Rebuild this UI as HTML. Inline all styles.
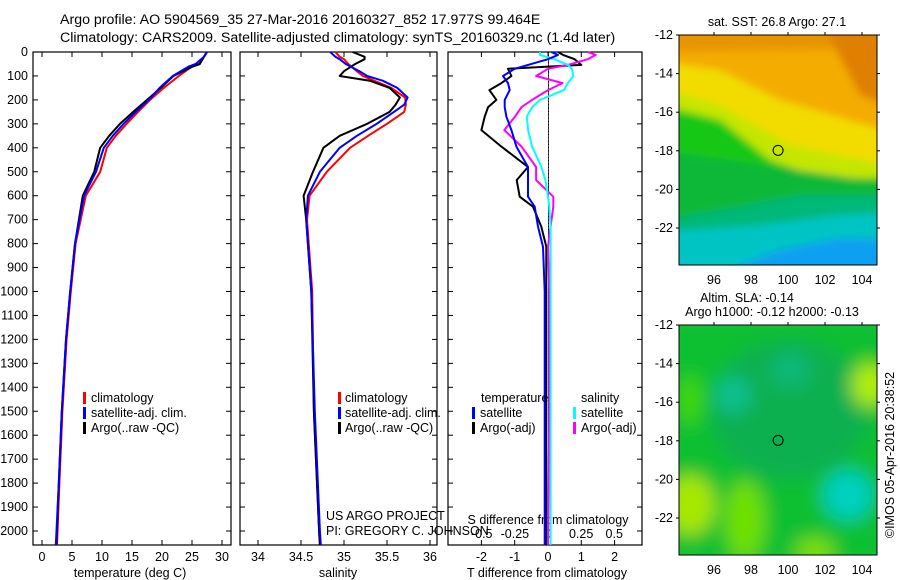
<!DOCTYPE html>
<html><head><meta charset="utf-8"><style>
html,body{margin:0;padding:0;background:#fff;}
svg{display:block;font-family:"Liberation Sans",sans-serif;}
</style></head><body>
<svg id="fig" width="900" height="580" viewBox="0 0 900 580">
<defs>
<filter id="blur" x="-10%" y="-10%" width="120%" height="120%"><feGaussianBlur stdDeviation="4"/></filter>
<filter id="blurS" x="-10%" y="-10%" width="120%" height="120%"><feGaussianBlur stdDeviation="9"/></filter>
<clipPath id="clip1"><rect x="679" y="35" width="198" height="230"/></clipPath>
<clipPath id="clip2"><rect x="679" y="325" width="198" height="230"/></clipPath>
</defs>
<g id="texts" font-size="14.2" fill="#000">
<text x="60" y="24">Argo profile: AO 5904569_35 27-Mar-2016 20160327_852 17.977S 99.464E</text>
<text x="60" y="42">Climatology: CARS2009. Satellite-adjusted climatology: synTS_20160329.nc (1.4d later)</text>
</g>
</svg>
<script>
// ---- data ----
const depthT = [0,20,50,60,100,150,200,250,300,350,400,500,600,800,1000,1200,1500,1800,2058];
const tempClim = [27.4,27.0,26.2,25.0,22.8,20.3,18.0,16.0,14.1,12.3,10.8,9.7,7.3,5.6,4.8,4.1,3.4,2.9,2.5];
const tempSat = [27.5,27.0,25.6,24.5,21.8,19.6,17.8,15.6,13.6,11.8,10.3,9.0,7.0,5.5,4.7,4.0,3.3,2.8,2.3];
const tempArgo = [27.5,27.0,26.3,25.2,21.9,19.8,17.5,15.2,13.0,11.2,9.7,8.7,6.8,5.5,4.7,4.0,3.3,2.8,2.4];
const depthS = [0,20,30,50,80,100,120,150,190,220,250,300,350,400,500,600,700,1000,1500,2000,2058];
const salClim = [34.9,34.95,35.0,35.05,35.15,35.22,35.35,35.55,35.71,35.72,35.7,35.5,35.28,35.07,34.8,34.6,34.57,34.63,34.65,34.71,34.72];
const salSat = [34.84,34.9,34.95,35.02,35.18,35.27,35.45,35.62,35.74,35.7,35.58,35.38,35.15,34.95,34.72,34.58,34.56,34.62,34.66,34.72,34.73];
const salArgo = [35.1,35.24,35.24,35.13,35.0,34.95,35.3,35.53,35.65,35.6,35.53,35.27,34.95,34.76,34.64,34.53,34.56,34.62,34.65,34.71,34.72];
const depthD = [0,12,30,54,70,100,130,159,200,230,270,326,395,480,535,604,646,729,813,1000,1500,2058];
const dTsat = [0.1,0.3,0.0,-0.6,-1.0,-1.35,-1.2,-1.15,-1.3,-1.3,-1.25,-1.1,-0.95,-0.6,-0.6,-0.6,-0.4,-0.3,-0.15,-0.1,-0.1,-0.1];
const dTargo = [0.3,0.45,0.8,1.0,-1.2,-1.1,-1.4,-1.76,-1.55,-1.8,-1.9,-2.0,-1.4,-0.6,-0.94,-0.85,-0.45,-0.2,-0.05,-0.05,-0.05,-0.05];
const dSsat = [-0.06,-0.06,0.05,0.15,0.18,0.19,0.15,0.12,-0.06,-0.12,-0.16,-0.15,-0.12,-0.05,-0.02,0.0,0.01,0.02,0.02,0.02,0.02,0.02];
const dSargo = [0.3,0.36,0.3,0.15,0.0,-0.09,0.11,0.0,-0.12,-0.2,-0.25,-0.33,-0.2,-0.09,-0.09,0.04,0.04,0.02,0.0,0.01,0.01,0.0];
const depthTicks = [0,100,200,300,400,500,600,700,800,900,1000,1100,1200,1300,1400,1500,1600,1700,1800,1900,2000];
const tempTicks = [0,5,10,15,20,25,30];
const salTicks = [34,34.5,35,35.5,36];
const salTickLabels = ["34","34.5","35","35.5","36"];
const dTTicks = [-2,-1,0,1,2];
const dSTicks = [-0.5,-0.25,0,0.25,0.5];
const dSTickLabels = ["-0.5","-0.25","0","0.25","0.5"];
const lonTicks = [96,98,100,102,104];
const latTicks = [-12,-14,-16,-18,-20,-22];
const argoLon = 99.464, argoLat = -17.977;

// ---- helpers ----
const NS = "http://www.w3.org/2000/svg";
const svg = document.getElementById('fig');
function mk(tag, attrs, parent){const e=document.createElementNS(NS,tag);for(const k in attrs)e.setAttribute(k,attrs[k]);(parent||svg).appendChild(e);return e;}
function txt(x,y,s,anchor,size,parent){const t=mk('text',{x:x,y:y,'font-size':size||12.5,'text-anchor':anchor||'start'},parent);t.textContent=s;return t;}
const yD = d => 52 + d*0.2395;
const PB = 545;
const xT = v => 42 + v*6;
const xS = v => 258 + (v-34)*86;
const xDT = v => 548 + v*33.3;
const xDS = v => 548 + v*132.5;

function frame(x0,x1,name){
  const r=mk('rect',{x:x0,y:52,width:x1-x0,height:PB-52,fill:'none',stroke:'#000','stroke-width':1.2});
  
  
}
function line(xs,ds,fx,color,name,w){
  const pts=xs.map((v,i)=>fx(v).toFixed(1)+','+yD(ds[i]).toFixed(1)).join(' ');
  const p=mk('polyline',{points:pts,fill:'none',stroke:color,'stroke-width':w||2,'stroke-linejoin':'round'});
  
  
}
function xticks(ticks,labels,fx,y,x0,x1){
  ticks.forEach((t,i)=>{const x=fx(t); if(x<x0||x>x1)return;
    mk('line',{x1:x,y1:52,x2:x,y2:57,stroke:'#000'});
    mk('line',{x1:x,y1:PB,x2:x,y2:PB-5,stroke:'#000'});
    const tl=txt(x,y,labels[i],'middle');
    
    
  });
}
function legendBar(x,y,color){mk('rect',{x:x,y:y-10,width:3,height:12,fill:color});}

// ---- panel 1 temperature ----
frame(33,231,'temperature-panel');
depthTicks.forEach(d=>{const y=yD(d);
  mk('line',{x1:33,y1:y,x2:38,y2:y,stroke:'#000'});
  mk('line',{x1:231,y1:y,x2:226,y2:y,stroke:'#000'});
  mk('line',{x1:240,y1:y,x2:245,y2:y,stroke:'#000'});
  mk('line',{x1:437,y1:y,x2:432,y2:y,stroke:'#000'});
  mk('line',{x1:448,y1:y,x2:453,y2:y,stroke:'#000'});
  mk('line',{x1:642,y1:y,x2:637,y2:y,stroke:'#000'});
  const tl=txt(28,y+4,String(d),'end');
  
  
});
xticks(tempTicks,tempTicks.map(String),xT,561,33,231);
let at=txt(130,577,'temperature (deg C)','middle');


line(tempClim,depthT,xT,'#f00','temp-climatology-line');
line(tempArgo,depthT,xT,'#000','temp-argo-line');
line(tempSat,depthT,xT,'#00f','temp-satellite-line');
[['climatology','#f00',402],['satellite-adj. clim.','#00f',417],['Argo(..raw -QC)','#000',432]].forEach(l=>{legendBar(83,l[2],l[1]);const t=txt(91,l[2],l[0],'start');
  
  });

// ---- panel 2 salinity ----
frame(240,437,'salinity-panel');
xticks(salTicks,salTickLabels,xS,561,240,437);
at=txt(338,577,'salinity','middle');


line(salClim,depthS,xS,'#f00','sal-climatology-line');
line(salArgo,depthS,xS,'#000','sal-argo-line');
line(salSat,depthS,xS,'#00f','sal-satellite-line');
[['climatology','#f00',402],['satellite-adj. clim.','#00f',417],['Argo(..raw -QC)','#000',432]].forEach(l=>{legendBar(338,l[2],l[1]);const t=txt(345,l[2],l[0],'start');
  
  });
let pi=txt(326,520,'US ARGO PROJECT','start');


pi=txt(326,535,'PI: GREGORY C. JOHNSON','start');



// ---- panel 3 differences ----
frame(448,642,'difference-panel');
for(let d=0; d<2058; d+=6){mk('rect',{x:548,y:yD(d),width:1,height:1.2,fill:'#000'});}
xticks(dTTicks,dTTicks.map(String),xDT,561,448,642);
dSTicks.forEach((t,i)=>{const s=txt(xDS(t),538,dSTickLabels[i],'middle');
  
  });
at=txt(548,524,'S difference from climatology','middle');


at=txt(547,577,'T difference from climatology','middle');


line(dTargo,depthD,xDT,'#000','t-diff-argo-line');
line(dSargo,depthD,xDS,'#f0f','s-diff-argo-line');
line(dSsat,depthD,xDS,'#0ff','s-diff-satellite-line');
line(dTsat,depthD,xDT,'#00f','t-diff-satellite-line');
let lt=txt(481,402,'temperature','start');


lt=txt(581,402,'salinity','start');


[['satellite','#00f',472,417],['Argo(-adj)','#000',472,432],['satellite','#0ff',573,417],['Argo(-adj)','#f0f',573,432]].forEach(l=>{legendBar(l[2],l[3],l[1]);const t=txt(l[2]+8,l[3],l[0],'start');
  
  });

// ---- maps ----
const MX0=679, MX1=877, MH=230;
const xLon = v => 714 + (v-96)*18.5;
function mapFrame(y0,name,clip,filt,fills){
  const g=mk('g',{});
  
  
  const fg=mk('g',{'clip-path':'url(#'+clip+')'},g);
  const inner=mk('g',{filter:'url(#'+filt+')'},fg);
  fills.forEach(f=>mk(f[0],f[1],inner));
  mk('rect',{x:MX0,y:y0,width:MX1-MX0,height:MH,fill:'none',stroke:'#000','stroke-width':1},g);
  const yLat = v => y0 + (-12 - v)*19.3;
  latTicks.forEach(t=>{const y=yLat(t);
    mk('line',{x1:MX0-3,y1:y,x2:MX0,y2:y,stroke:'#000'},g);
    mk('line',{x1:MX1,y1:y,x2:MX1+3,y2:y,stroke:'#000'},g);
    const l=txt(MX0-6,y+4,String(t),'end',12.5,g);
    
    });
  lonTicks.forEach(t=>{const x=xLon(t);
    mk('line',{x1:x,y1:y0-3,x2:x,y2:y0,stroke:'#000'},g);
    const l=txt(x,y0+MH+19,String(t),'middle',12.5,g);
    
    });
  const c=mk('circle',{cx:xLon(argoLon),cy:yLat(argoLat),r:5,fill:'none',stroke:'#000','stroke-width':1},g);
  
  
}
mapFrame(35,'sst-map','clip1','blur',[
  ['rect',{x:660,y:20,width:240,height:260,fill:'#f4ac00'}],
  ['polygon',{points:'660,20 900,20 900,48 660,52',fill:'#e89400'}],
  ['polygon',{points:'820,20 900,20 900,110 860,95',fill:'#e08000'}],
  ['polygon',{points:'660,62 720,70 780,100 900,135 900,280 660,280',fill:'#f2dc00'}],
  ['polygon',{points:'660,88 720,105 790,145 900,168 900,280 660,280',fill:'#c4e600'}],
  ['polygon',{points:'660,105 720,120 770,160 820,178 900,178 900,280 660,280',fill:'#18c818'}],
  ['polygon',{points:'660,150 900,185 900,280 660,280',fill:'#0cb838'}],
  ['polygon',{points:'660,220 720,210 800,195 900,195 900,280 660,280',fill:'#00b878'}],
  ['polygon',{points:'660,232 760,225 840,215 900,212 900,280 660,280',fill:'#00c4c4'}],
  ['polygon',{points:'740,265 780,250 840,238 900,240 900,280 740,280',fill:'#10a0f0'}]
]);
mapFrame(325,'sla-map','clip2','blurS',[
  ['rect',{x:660,y:310,width:240,height:260,fill:'#10c030'}],
  ['ellipse',{cx:790,cy:410,rx:80,ry:70,fill:'#10b050'}],
  ['ellipse',{cx:733,cy:395,rx:18,ry:18,fill:'#10c090'}],
  ['ellipse',{cx:790,cy:370,rx:20,ry:18,fill:'#10b878'}],
  ['ellipse',{cx:848,cy:495,rx:25,ry:25,fill:'#00d0c0'}],
  ['ellipse',{cx:690,cy:505,rx:25,ry:30,fill:'#a8e800'}],
  ['ellipse',{cx:745,cy:520,rx:20,ry:40,fill:'#70e000'}],
  ['ellipse',{cx:870,cy:385,rx:18,ry:22,fill:'#b0f000'}],
  ['ellipse',{cx:815,cy:550,rx:20,ry:12,fill:'#80e000'}],
  ['ellipse',{cx:690,cy:400,rx:12,ry:25,fill:'#40d800'}]
]);
let mt=txt(777,26,'sat. SST: 26.8 Argo: 27.1','middle');


mt=txt(747,302,'Altim. SLA: -0.14','middle');


mt=txt(772,316,'Argo h1000: -0.12 h2000: -0.13','middle');


const cp=txt(0,0,'©IMOS 05-Apr-2016 20:38:52','middle');
cp.setAttribute('transform','translate(894,455) rotate(-90)');


</script>
</body></html>
